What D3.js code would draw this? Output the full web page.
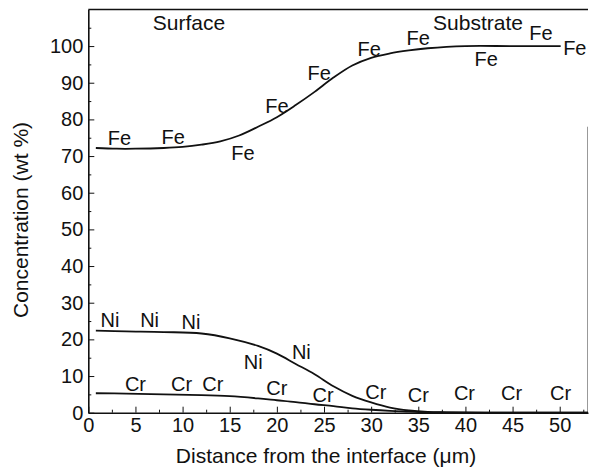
<!DOCTYPE html>
<html>
<head>
<meta charset="utf-8">
<script src="https://cdn.jsdelivr.net/npm/d3@7"></script>
<style>
  body { margin: 0; background: #fff; }
  text { font-family: "Liberation Sans", Arial, Helvetica, sans-serif; fill: #111; }
</style>
</head>
<body>
<div id="chart"></div>
<script>
// concentration profiles across the interface
var feDist = [0.8, 3, 5, 8, 10, 12, 14, 16, 18, 20, 22, 24, 26, 28, 30, 32, 34, 36, 38, 40, 45, 50.1];
var feConc = [72.2, 72.0, 72.0, 72.2, 72.5, 73.1, 74.0, 75.6, 78.0, 80.6, 83.9, 87.5, 91.4, 94.7, 96.8, 98.0, 98.8, 99.4, 99.8, 100, 100, 100];

var niCrDist = [0.8, 4, 8, 12, 15, 18, 20, 22, 24, 26, 28, 30, 32, 34, 36, 38, 42, 53];
var niConc = [22.4, 22.2, 22.0, 21.6, 20.3, 18.2, 16.1, 13.3, 10.5, 7.2, 4.6, 2.8, 1.4, 0.6, 0.2, 0.1, 0, 0];
var crConc = [5.3, 5.2, 5.0, 4.8, 4.5, 3.9, 3.4, 2.9, 2.3, 1.8, 1.2, 0.8, 0.5, 0.3, 0.1, 0.05, 0, 0];

// element labels drawn on the plot (data coordinates)
var feLabelX = [3.3, 9, 16.4, 20, 24.5, 29.8, 35, 42.2, 48, 51.6];
var feLabelY = [75, 75.3, 70.8, 83.6, 92.7, 99.3, 102.3, 96.4, 103.6, 99.5];
var niLabelX = [2.3, 6.5, 10.9, 17.5, 22.6];
var niLabelY = [25.3, 25.3, 24.9, 13.9, 16.7];
var crLabelX = [5, 9.9, 13.2, 20, 24.9, 30.5, 35, 39.9, 44.9, 50.1];
var crLabelY = [8, 8, 8, 6.7, 4.8, 5.7, 4.8, 5.3, 5.3, 5.3];

var xTicks = [0, 5, 10, 15, 20, 25, 30, 35, 40, 45, 50];
var xMinor = [2.5, 7.5, 12.5, 17.5, 22.5, 27.5, 32.5, 37.5, 42.5, 47.5, 52.5];
var yTicks = [0, 10, 20, 30, 40, 50, 60, 70, 80, 90, 100];
var yMinor = [5, 15, 25, 35, 45, 55, 65, 75, 85, 95, 105];

var W = 589, H = 472;
var margin = {top: 9.4, right: 1, bottom: 59.3, left: 88.3},
	width = W - margin.left - margin.right,
	height = H - margin.top - margin.bottom;

var x = d3.scaleLinear().domain([0, 53]).range([0, width]);
var y = d3.scaleLinear().domain([0, 110]).range([height, 0]);

var svg = d3.select("#chart").append("svg")
	.attr("width", W)
	.attr("height", H)
.append("g")
	.attr("transform", "translate(" + margin.left + "," + margin.top + ")");

// frame
svg.append("line")
	.attr("x1", 0).attr("x2", width).attr("y1", 0).attr("y2", 0)
	.attr("stroke", "#111").attr("stroke-width", 1.5);
svg.append("line")
	.attr("x1", width - 0.5).attr("x2", width - 0.5).attr("y1", y(78)).attr("y2", height)
	.attr("stroke", "#999").attr("stroke-width", 1);

// x axis
svg.append("g")
	.attr("transform", "translate(0," + height + ")")
	.call(d3.axisBottom(x).tickValues(xTicks).tickSizeInner(-6).tickSizeOuter(0).tickPadding(5));
svg.append("g")
	.attr("transform", "translate(0," + height + ")")
	.call(d3.axisBottom(x).tickValues(xMinor).tickSizeInner(-3).tickSizeOuter(0).tickFormat(""))
	.select(".domain").remove();

// y axis
svg.append("g")
	.call(d3.axisLeft(y).tickValues(yTicks).tickSizeInner(-6).tickSizeOuter(0).tickPadding(5));
svg.append("g")
	.call(d3.axisLeft(y).tickValues(yMinor).tickSizeInner(-3).tickSizeOuter(0).tickFormat(""))
	.select(".domain").remove();

svg.selectAll(".domain").attr("stroke", "#111").attr("stroke-width", 1.6);
svg.selectAll(".tick line").attr("stroke", "#111").attr("stroke-width", 1);
svg.selectAll(".tick text").style("font-size", "20px").attr("fill", "#111")
	.style("font-family", "'Liberation Sans', Arial, sans-serif");

// curves
var line = d3.line()
	.x(function(d){ return x(d[0]); })
	.y(function(d){ return y(d[1]); })
	.curve(d3.curveCatmullRom.alpha(0.5));

[[feDist, feConc], [niCrDist, niConc], [niCrDist, crConc]].forEach(function(s){
	svg.append("path")
		.datum(d3.zip(s[0], s[1]))
		.attr("fill", "none")
		.attr("stroke", "#111")
		.attr("stroke-width", 1.8)
		.attr("d", line);
});

// element labels
function labels(name, xs, ys) {
	svg.selectAll(".lbl-" + name)
		.data(d3.zip(xs, ys))
		.enter().append("text")
		.attr("class", "lbl-" + name)
		.attr("x", function(d){ return x(d[0]); })
		.attr("y", function(d){ return y(d[1]); })
		.attr("dy", "0.36em")
		.style("text-anchor", "middle")
		.style("font-size", "20px")
		.text(name);
}
labels("Fe", feLabelX, feLabelY);
labels("Ni", niLabelX, niLabelY);
labels("Cr", crLabelX, crLabelY);

svg.append("text")
	.attr("x", 189 - margin.left)
	.attr("y", 30 - margin.top)
	.style("text-anchor", "middle")
	.style("font-size", "21px")
	.text("Surface");
svg.append("text")
	.attr("x", 478 - margin.left)
	.attr("y", 30 - margin.top)
	.style("text-anchor", "middle")
	.style("font-size", "21px")
	.text("Substrate");

// axis titles
svg.append("text")
	.attr("x", 326 - margin.left)
	.attr("y", height + 50)
	.style("text-anchor", "middle")
	.style("font-size", "21px")
	.text("Distance from the interface (\u03bcm)");
svg.append("text")
	.attr("transform", "rotate(-90)")
	.attr("x", -(220 - margin.top))
	.attr("y", -60)
	.style("text-anchor", "middle")
	.style("font-size", "21px")
	.text("Concentration (wt %)");
</script>
</body>
</html>
